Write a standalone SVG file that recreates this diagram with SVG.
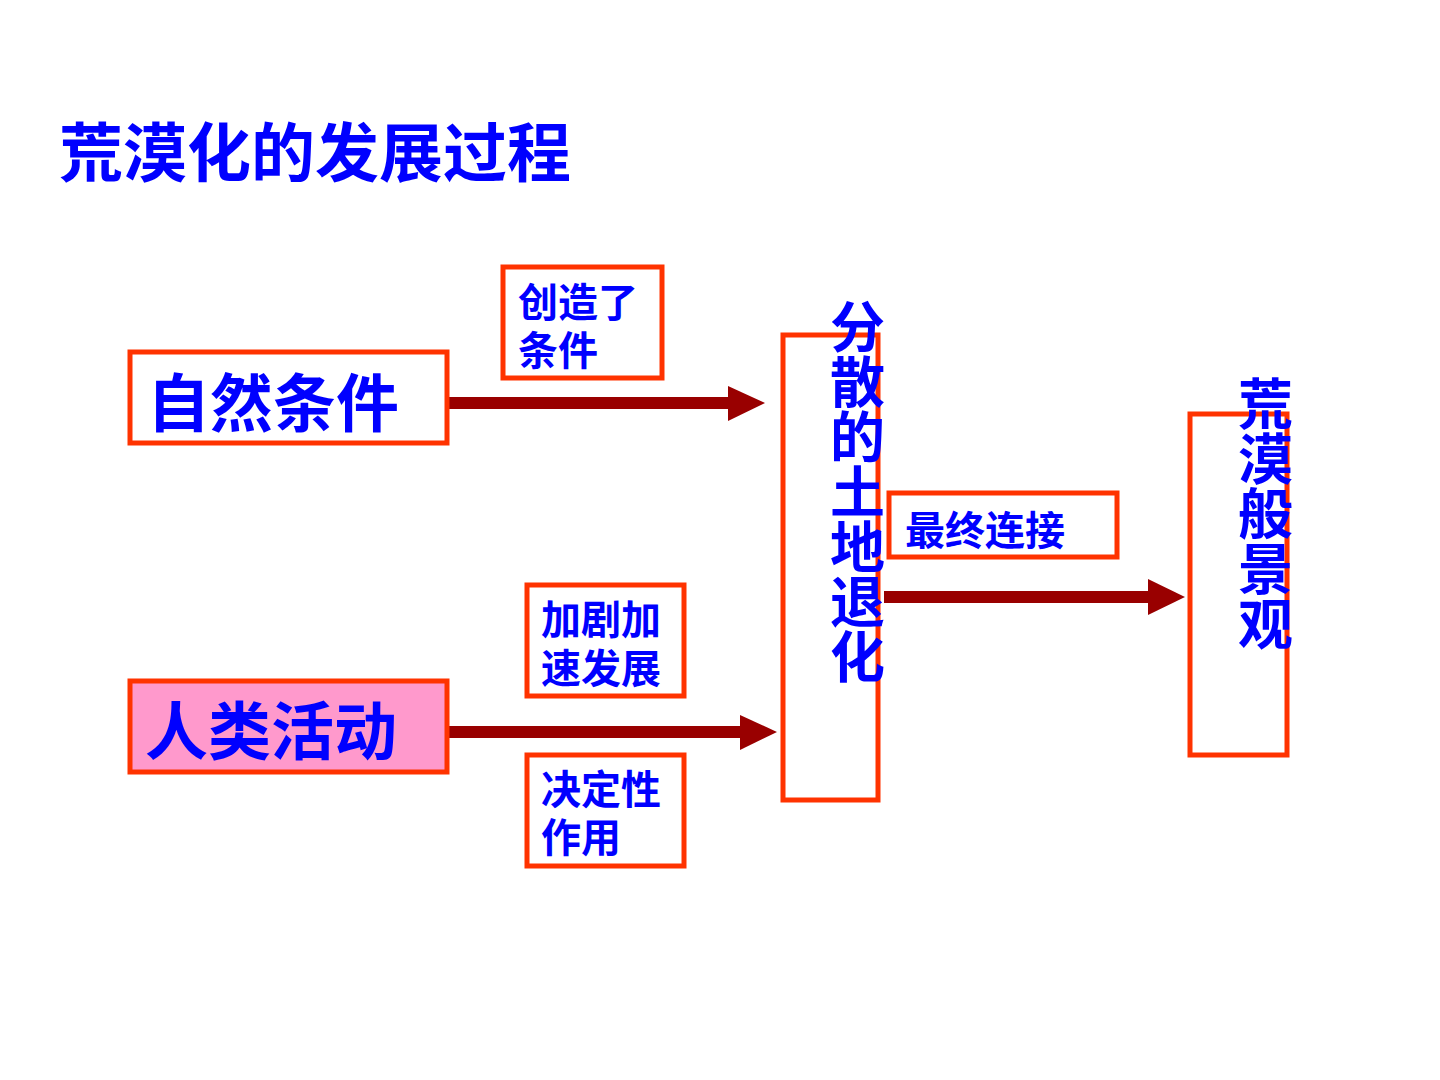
<svg xmlns="http://www.w3.org/2000/svg" width="1440" height="1080" viewBox="0 0 1440 1080">
<style>
  .t{font-family:"Liberation Sans","Noto Sans CJK SC",sans-serif;font-weight:bold;fill:#0000FF}
  .v{font-size:55px}
  .box{fill:#FFFFFF;stroke:#FF3300;stroke-width:5}
  .conn{stroke:#990000;stroke-width:12;fill:none}
  .head{fill:#990000}
</style>
<rect width="1440" height="1080" fill="#FFFFFF"/>
<text class="t" x="59" y="176" font-size="64">荒漠化的发展过程</text>

<g id="connectors">
  <line class="conn" x1="442" y1="403" x2="732" y2="403"/>
  <polygon class="head" points="728,386 765,403 728,421"/>
  <line class="conn" x1="447" y1="732" x2="744" y2="732"/>
  <polygon class="head" points="740,715 777,732 740,750"/>
  <line class="conn" x1="884" y1="597" x2="1152" y2="597"/>
  <polygon class="head" points="1148,579 1185,597 1148,615"/>
</g>

<g id="node-ziran">
  <rect class="box" x="130" y="352" width="317" height="91"/>
  <text class="t" x="147" y="426" font-size="63">自然条件</text>
</g>
<g id="node-chuangzao">
  <rect class="box" x="503" y="267" width="159" height="111"/>
  <text class="t" x="518" y="317" font-size="40">创造了</text>
  <text class="t" x="518" y="365" font-size="40">条件</text>
</g>
<g id="node-renlei">
  <rect class="box" x="130" y="681" width="317" height="91" style="fill:#FF99CC"/>
  <text class="t" x="145" y="754" font-size="63">人类活动</text>
</g>
<g id="node-jiaju">
  <rect class="box" x="527" y="585" width="157" height="111"/>
  <text class="t" x="541" y="634" font-size="40">加剧加</text>
  <text class="t" x="541" y="683" font-size="40">速发展</text>
</g>
<g id="node-jueding">
  <rect class="box" x="527" y="755" width="157" height="111"/>
  <text class="t" x="541" y="804" font-size="40">决定性</text>
  <text class="t" x="541" y="852" font-size="40">作用</text>
</g>
<g id="node-fensan">
  <rect class="box" x="783" y="335" width="95" height="465"/>
  <text class="t v" x="830" y="347">分</text>
  <text class="t v" x="830" y="402">散</text>
  <text class="t v" x="830" y="457">的</text>
  <text class="t v" x="830" y="512">土</text>
  <text class="t v" x="830" y="567">地</text>
  <text class="t v" x="830" y="622">退</text>
  <text class="t v" x="830" y="677">化</text>
</g>
<g id="node-zuizhong">
  <rect class="box" x="889" y="493" width="228" height="64"/>
  <text class="t" x="905" y="545" font-size="40">最终连接</text>
</g>
<g id="node-huangmo">
  <rect class="box" x="1190" y="414" width="97" height="341"/>
  <text class="t v" x="1238" y="424">荒</text>
  <text class="t v" x="1238" y="479">漠</text>
  <text class="t v" x="1238" y="534">般</text>
  <text class="t v" x="1238" y="589">景</text>
  <text class="t v" x="1238" y="644">观</text>
</g>
</svg>
